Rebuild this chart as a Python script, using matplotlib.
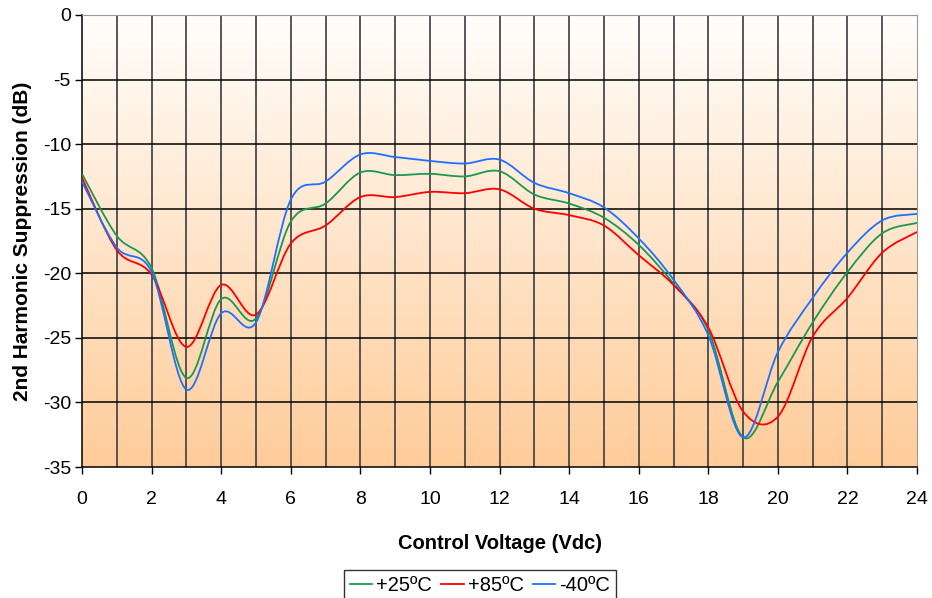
import numpy as np
import matplotlib
matplotlib.use("Agg")
import matplotlib.pyplot as plt
from matplotlib.path import Path
from matplotlib.patches import PathPatch
from matplotlib.lines import Line2D
from matplotlib.colors import LinearSegmentedColormap

plt.rcParams['font.family'] = ['Liberation Sans', 'DejaVu Sans']
plt.rcParams['axes.unicode_minus'] = False

voltage = list(range(0, 25))
t25 = [-12.3, -17.1, -19.6, -28.1, -22.0, -23.5, -16.0, -14.6, -12.2, -12.4, -12.3, -12.5, -12.1,
       -13.9, -14.6, -15.7, -17.8, -20.8, -24.4, -32.7, -28.4, -23.8, -19.9, -16.9, -16.1]
t85 = [-12.6, -18.2, -20.1, -25.7, -20.9, -23.2, -17.7, -16.3, -14.1, -14.1, -13.7, -13.8, -13.5,
       -15.0, -15.5, -16.3, -18.6, -20.9, -24.2, -30.7, -31.1, -24.9, -21.9, -18.4, -16.8]
tm40 = [-12.9, -18.0, -19.9, -29.0, -23.1, -23.8, -14.3, -12.9, -10.8, -11.0, -11.3, -11.5, -11.2,
        -13.0, -13.8, -14.9, -17.3, -20.5, -24.8, -32.7, -26.1, -21.9, -18.4, -15.9, -15.4]
labels = ['+25ºC', '+85ºC', '-40ºC']
colors = ['#1A9850', '#FF0000', '#1F6FFF']
xticks = list(range(0, 25, 2))
yticks = list(range(-35, 1, 5))

fig = plt.figure(figsize=(9.32, 5.98), dpi=100)
ax = fig.add_axes([0.088, 0.219, 0.896, 0.756])
ax.set_xlim(0, 24)
ax.set_ylim(-35, 0)

# gradient background
cmap = LinearSegmentedColormap.from_list('bg', ['#FFCC99', '#FFFEFC'])
grad = np.linspace(0, 1, 256).reshape(-1, 1)
ax.imshow(grad, extent=[0, 24, -35, 0], origin='lower', cmap=cmap, aspect='auto', zorder=0)

# grid
for v in range(1, 24):
    ax.axvline(v, color='#4a4a4a', lw=1.3, zorder=1)
for yv in range(-30, 0, 5):
    ax.axhline(yv, color='black', lw=1.1, zorder=1)


def smooth_path(x, y):
    x = np.asarray(x, float)
    y = np.asarray(y, float)
    n = len(x)
    verts = [(x[0], y[0])]
    codes = [Path.MOVETO]
    for i in range(n - 1):
        x0, y0 = (x[i - 1], y[i - 1]) if i > 0 else (x[i], y[i])
        x3, y3 = (x[i + 2], y[i + 2]) if i + 2 < n else (x[i + 1], y[i + 1])
        c1 = (x[i] + (x[i + 1] - x0) / 6, y[i] + (y[i + 1] - y0) / 6)
        c2 = (x[i + 1] - (x3 - x[i]) / 6, y[i + 1] - (y3 - y[i]) / 6)
        verts += [c1, c2, (x[i + 1], y[i + 1])]
        codes += [Path.CURVE4] * 3
    return Path(verts, codes)


handles = []
for ys, lab, col in zip([t25, t85, tm40], labels, colors):
    p = PathPatch(smooth_path(voltage, ys), fill=False, edgecolor=col, lw=1.3, zorder=3)
    ax.add_patch(p)
    handles.append(Line2D([], [], color=col, lw=1.3, label=lab))

ax.set_xticks(xticks)
ax.set_yticks(yticks)
ax.tick_params(axis='both', labelsize=14, direction='out', length=5, width=1, color='black')
ax.tick_params(axis='x', pad=12)
ax.tick_params(axis='y', pad=3)
for s in ['top', 'right']:
    ax.spines[s].set_color('#999999')
for s in ['left', 'bottom']:
    ax.spines[s].set_color('black')
    ax.spines[s].set_linewidth(1.1)

ax.set_xlabel('Control Voltage (Vdc)', fontsize=14.5, fontweight='bold', labelpad=19)
ax.set_ylabel('2nd Harmonic Suppression (dB)', fontsize=15, fontweight='bold', labelpad=8)

leg = fig.legend(handles=handles, loc='upper center', bbox_to_anchor=(0.515, 0.0468), ncol=3,
                 fontsize=14.5, frameon=True, fancybox=False, edgecolor='black',
                 handlelength=1.1, handletextpad=0.2, columnspacing=0.45, borderpad=0.3,
                 borderaxespad=0)
leg.get_frame().set_linewidth(1.0)

fig.savefig('out.png', dpi=100)
